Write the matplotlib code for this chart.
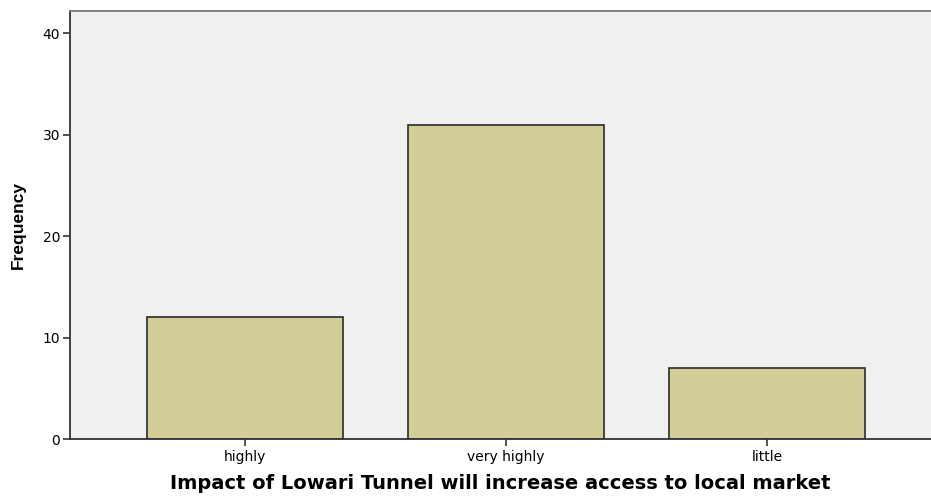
import matplotlib
matplotlib.use("Agg")
import matplotlib.pyplot as plt

categories = ["highly", "very highly", "little"]
frequencies = [12, 31, 7]
yticks = [0, 10, 20, 30, 40]

plt.rcParams['font.family'] = ['DejaVu Sans']

fig = plt.figure(figsize=(9.31, 4.98), dpi=100)
ax = fig.add_axes([70/931, 59/498, 1 - 70/931, (439-11)/498])
ax.set_facecolor('#F0F0F0')
x = list(range(len(categories)))
ax.bar(x, frequencies, width=0.75, color='#D3CE98', edgecolor='#2b2b2b', linewidth=1.2)
ax.set_xlim(-0.67, 2.628)
ax.set_ylim(0, 42.2)
ax.set_yticks(yticks)
ax.set_xticks(x)
ax.set_xticklabels(categories, fontsize=10)
ax.tick_params(axis='y', labelsize=10, length=5, width=1.2, color='#333333', pad=2)
ax.tick_params(axis='x', length=5, width=1.2, color='#333333', pad=3)
for s in ['left', 'bottom']:
    ax.spines[s].set_color('#333333')
    ax.spines[s].set_linewidth(1.3)
ax.spines['top'].set_color('#777777')
ax.spines['top'].set_linewidth(1.3)
ax.spines['right'].set_visible(False)
ax.set_ylabel("Frequency", fontsize=12.5, fontweight='bold', labelpad=12,
              family=['Liberation Sans', 'DejaVu Sans'])
ax.set_xlabel("Impact of Lowari Tunnel will increase access to local market",
              fontsize=14, fontweight='bold', labelpad=7)
fig.savefig("out.png", dpi=100)
